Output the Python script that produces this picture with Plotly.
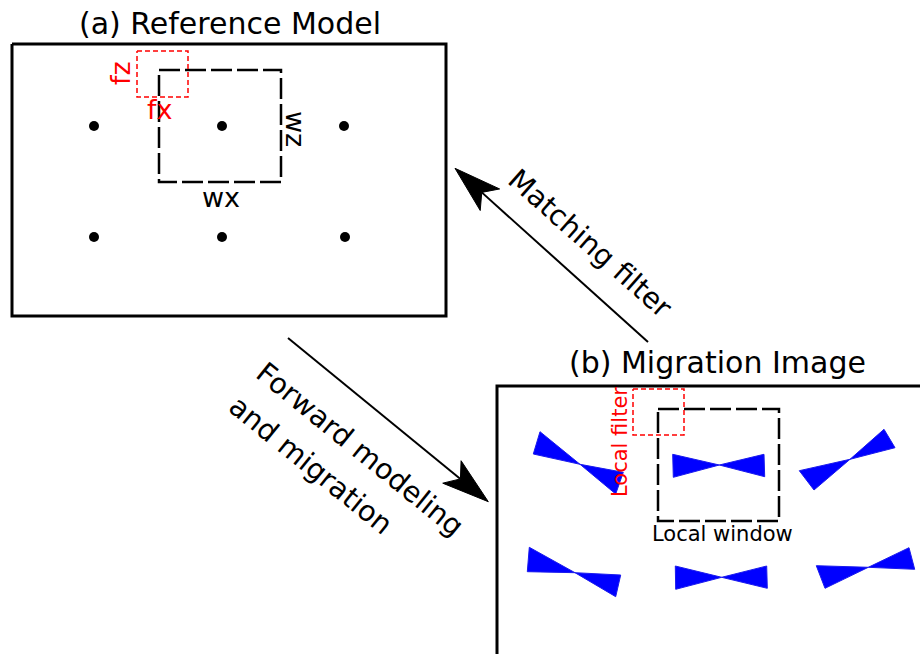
import numpy as np
import plotly.graph_objects as go

# ---------------- data (pixel-space diagram coordinates) ----------------
# panel (a) frame
frame_a_x = [12, 446, 446, 12, 12]
frame_a_y = [44, 44, 316, 316, 44]
# panel (b) frame (open to the right / bottom)
frame_b_x = [935, 497, 497]
frame_b_y = [386, 386, 670]

# point scatterers in reference model
ref_dots_x = [94, 222, 344, 94, 222, 345]
ref_dots_y = [126, 126, 126, 237, 237, 237]

# windows [x0, x1, y0, y1]
win_a = [159, 281, 70, 182]
filt_a = [137, 188, 51, 97]
win_b = [658, 779, 409, 521]
filt_b = [633, 684, 389, 435]

# bowties: left-top, left-bottom, centre, right-top, right-bottom
bowties = [
    [(540, 431.7), (533.3, 454), (580, 464.3), (623.3, 472.3), (615.7, 494)],
    [(672.7, 454.3), (673.3, 477.3), (719.3, 465), (764, 454.3), (764.7, 476.7)],
    [(799.3, 470.7), (814, 490), (850, 459.3), (884, 429.3), (895, 447.7)],
    [(529.3, 547.3), (527.3, 571.7), (575, 572.7), (620.7, 575), (615.7, 596.7)],
    [(675.3, 566), (675.7, 589.3), (721.7, 577.3), (766.7, 566), (767.3, 588.3)],
    [(816.3, 565.7), (825, 588.3), (868.3, 567.3), (909, 547.7), (914.7, 569.3)],
]

# arrows: (tail, tip)
arrow_match = [(648, 342), (455, 168.3)]
arrow_forward = [(288, 338), (488.3, 501.7)]

# ---------------- figure ----------------
fig = go.Figure()

def rect(b):
    x0, x1, y0, y1 = b
    return [x0, x1, x1, x0, x0], [y0, y0, y1, y1, y0]

# frames
fig.add_trace(go.Scatter(x=frame_a_x, y=frame_a_y, mode="lines",
                         line=dict(color="black", width=3)))
fig.add_trace(go.Scatter(x=frame_b_x, y=frame_b_y, mode="lines",
                         line=dict(color="black", width=3)))

# dots
fig.add_trace(go.Scatter(x=ref_dots_x, y=ref_dots_y, mode="markers",
                         marker=dict(color="black", size=10)))

# bowties
for bt in bowties:
    lt, lb, c, rt, rb = bt
    pts = [lt, c, rt, rb, c, lb, lt]
    fig.add_trace(go.Scatter(x=[p[0] for p in pts], y=[p[1] for p in pts],
                             mode="lines", fill="toself", fillcolor="#0000ff",
                             line=dict(color="#1a1aee", width=1)))

# windows
for b in (win_a, win_b):
    xs, ys = rect(b)
    fig.add_trace(go.Scatter(x=xs, y=ys, mode="lines",
                             line=dict(color="black", width=2.5, dash="21px,5px")))
for b in (filt_a, filt_b):
    xs, ys = rect(b)
    fig.add_trace(go.Scatter(x=xs, y=ys, mode="lines",
                             line=dict(color="red", width=1.5, dash="5px,3px")))

# arrows
def add_arrow(tail, tip):
    tail = np.array(tail, float)
    tip = np.array(tip, float)
    d = tail - tip
    d = d / np.linalg.norm(d)
    p = np.array([-d[1], d[0]])
    notch = tip + 36 * d
    b1 = tip + 47 * d + 14.5 * p
    b2 = tip + 47 * d - 14.5 * p
    fig.add_trace(go.Scatter(x=[tail[0], notch[0]], y=[tail[1], notch[1]],
                             mode="lines", line=dict(color="black", width=2)))
    poly = [tip, b1, notch, b2, tip]
    fig.add_trace(go.Scatter(x=[q[0] for q in poly], y=[q[1] for q in poly],
                             mode="lines", fill="toself", fillcolor="black",
                             line=dict(color="black", width=1)))

add_arrow(*arrow_match)
add_arrow(*arrow_forward)

FONT = "DejaVu Sans"

def txt(x, y, s, size, color="black", angle=0):
    fig.add_annotation(x=x, y=y, xref="x", yref="y", text=s, showarrow=False,
                       textangle=angle, xanchor="center", yanchor="middle",
                       font=dict(family=FONT, size=size, color=color))

txt(230, 23, "(a) Reference Model", 30)
txt(717, 362, "(b) Migration Image", 30)
txt(120, 73, "fz", 27, "red", -90)
txt(160, 109, "fx", 27, "red")
txt(296, 129, "wz", 27, "black", 90)
txt(221, 197, "wx", 27)
txt(722, 534, "Local window", 21)
txt(620, 442, "Local filter", 21, "red", -90)
txt(590, 243, "Matching filter", 28.5, "black", 41.5)
txt(360, 449, "Forward modeling", 28.5, "black", 39)
txt(311, 465, "and migration", 28.5, "black", 39)

fig.update_layout(
    width=920, height=654, autosize=False,
    margin=dict(l=0, r=0, t=0, b=0),
    paper_bgcolor="white", plot_bgcolor="white",
    showlegend=False, hovermode=False,
    xaxis=dict(range=[0, 920], visible=False, fixedrange=True),
    yaxis=dict(range=[654, 0], visible=False, fixedrange=True),
)

# remove the default 8px page margin so the figure sits at the window origin
fig.write_html(
    "out.html",
    config={"displayModeBar": False, "staticPlot": True},
    post_script="document.body.style.margin='0';document.body.style.overflow='hidden';",
)
